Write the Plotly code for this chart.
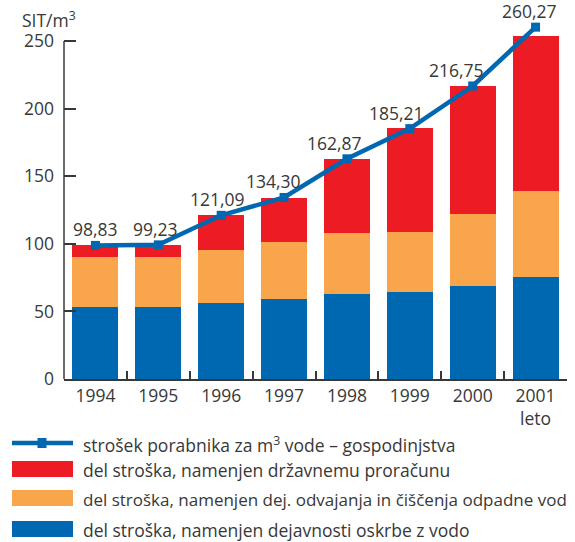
import plotly.graph_objects as go

years = ["1994", "1995", "1996", "1997", "1998", "1999", "2000", "2001"]
tick_labels = ["1994", "1995", "1996", "1997", "1998", "1999", "2000", "2001<br>leto"]
supply = [53, 53, 56.5, 59.5, 63, 64.5, 69, 75.7]
wastewater = [37, 37, 39.2, 41.5, 44.8, 44.5, 53.4, 63.7]
budget = [9.4, 9.4, 25.3, 33, 55.2, 76.5, 94.6, 114]
household_cost = [98.83, 99.23, 121.09, 134.30, 162.87, 185.21, 216.75, 260.27]

legend_names = [
    "strošek porabnika za m<sup>3</sup> vode – gospodinjstva",
    "del stroška, namenjen državnemu proračunu",
    "del stroška, namenjen dej. odvajanja in čiščenja odpadne vod",
    "del stroška, namenjen dejavnosti oskrbe z vodo",
]

BLUE = "#0067B1"
RED = "#ED1C24"
ORANGE = "#F8A54B"
TEXT = "#383838"
FONT = "Open Sans"
FS = 17.5

W, H = 575, 542
PLOT_L, PLOT_R, PLOT_T, PLOT_B = 64, 567, 14, 379
L, R, T, B = PLOT_L, W - PLOT_R, PLOT_T, H - PLOT_B
PW, PH = PLOT_R - PLOT_L, PLOT_B - PLOT_T


def px(x):
    return (x - PLOT_L) / PW


def py(y):
    return (PLOT_B - y) / PH


fig = go.Figure()
fig.add_bar(x=years, y=supply, marker_color=BLUE, marker_line_width=0, name=legend_names[3], showlegend=False)
fig.add_bar(x=years, y=wastewater, marker_color=ORANGE, marker_line_width=0, name=legend_names[2], showlegend=False)
fig.add_bar(x=years, y=budget, marker_color=RED, marker_line_width=0, name=legend_names[1], showlegend=False)
fig.add_scatter(x=years, y=household_cost, mode="lines+markers",
                line=dict(color=BLUE, width=4.5),
                marker=dict(symbol="square", size=9, color=BLUE),
                name=legend_names[0], showlegend=False, cliponaxis=False)

label_xshift = [0, -3, -4, -11, -12, -13, -16, -6]
for i, (v, dx) in enumerate(zip(household_cost, label_xshift)):
    fig.add_annotation(x=i, y=v, xref="x", yref="y", text=f"{v:.2f}".replace(".", ","),
                       showarrow=False, xshift=dx, yshift=16, yanchor="middle",
                       font=dict(family=FONT, size=FS, color=TEXT))

# y-axis line only up to 250
fig.add_shape(type="line", xref="paper", yref="y", x0=0, x1=0, y0=0, y1=250,
              line=dict(color=TEXT, width=1.5))

# unit title
fig.add_annotation(xref="paper", yref="paper", x=px(78), y=py(19), text="SIT/m<sup>3</sup>",
                   showarrow=False, xanchor="right", yanchor="middle",
                   font=dict(family=FONT, size=FS, color=TEXT))

# custom legend
leg_y = [443, 469, 498, 529]
leg_fs = [FS, FS, 17, FS]
rect_colors = [None, RED, ORANGE, BLUE]
for name, yy, col, fs in zip(legend_names, leg_y, rect_colors, leg_fs):
    if col is None:
        fig.add_shape(type="line", xref="paper", yref="paper", x0=px(12), x1=px(73),
                      y0=py(yy), y1=py(yy), line=dict(color=BLUE, width=4.5))
        fig.add_shape(type="rect", xref="paper", yref="paper", x0=px(37.5), x1=px(46.5),
                      y0=py(yy - 5), y1=py(yy + 5), fillcolor=BLUE, line_width=0)
    else:
        fig.add_shape(type="rect", xref="paper", yref="paper", x0=px(12), x1=px(73),
                      y0=py(yy - 8), y1=py(yy + 8), fillcolor=col, line_width=0)
    fig.add_annotation(xref="paper", yref="paper", x=px(81), y=py(yy + 1), text=name,
                       showarrow=False, xanchor="left", yanchor="middle",
                       font=dict(family=FONT, size=fs, color=TEXT))

fig.update_layout(
    width=W, height=H, margin=dict(l=L, r=R, t=T, b=B, pad=0, autoexpand=False),
    paper_bgcolor="white", plot_bgcolor="white",
    barmode="stack", bargap=0.27, showlegend=False,
    font=dict(family=FONT, size=FS, color=TEXT),
)
fig.update_xaxes(type="category", range=[-0.5, 7.5], tickvals=years, ticktext=tick_labels,
                 tickangle=0, automargin=False,
                 showline=True, linecolor=TEXT, linewidth=1.5,
                 ticks="inside", tickson="boundaries", ticklen=8, tickcolor=TEXT, tickwidth=1.5,
                 showgrid=False, zeroline=False, tickfont=dict(family=FONT, size=FS, color=TEXT))
fig.update_yaxes(range=[0, 270], tickvals=[0, 50, 100, 150, 200, 250], automargin=False,
                 showline=False, ticks="inside", ticklen=12, tickcolor=TEXT, tickwidth=1.5,
                 showgrid=False, zeroline=False, ticklabelstandoff=9,
                 tickfont=dict(family=FONT, size=FS, color=TEXT))

fig.write_html("out.html", config={"displayModeBar": False},
               post_script="document.body.style.margin='0';document.body.style.overflow='hidden';")
